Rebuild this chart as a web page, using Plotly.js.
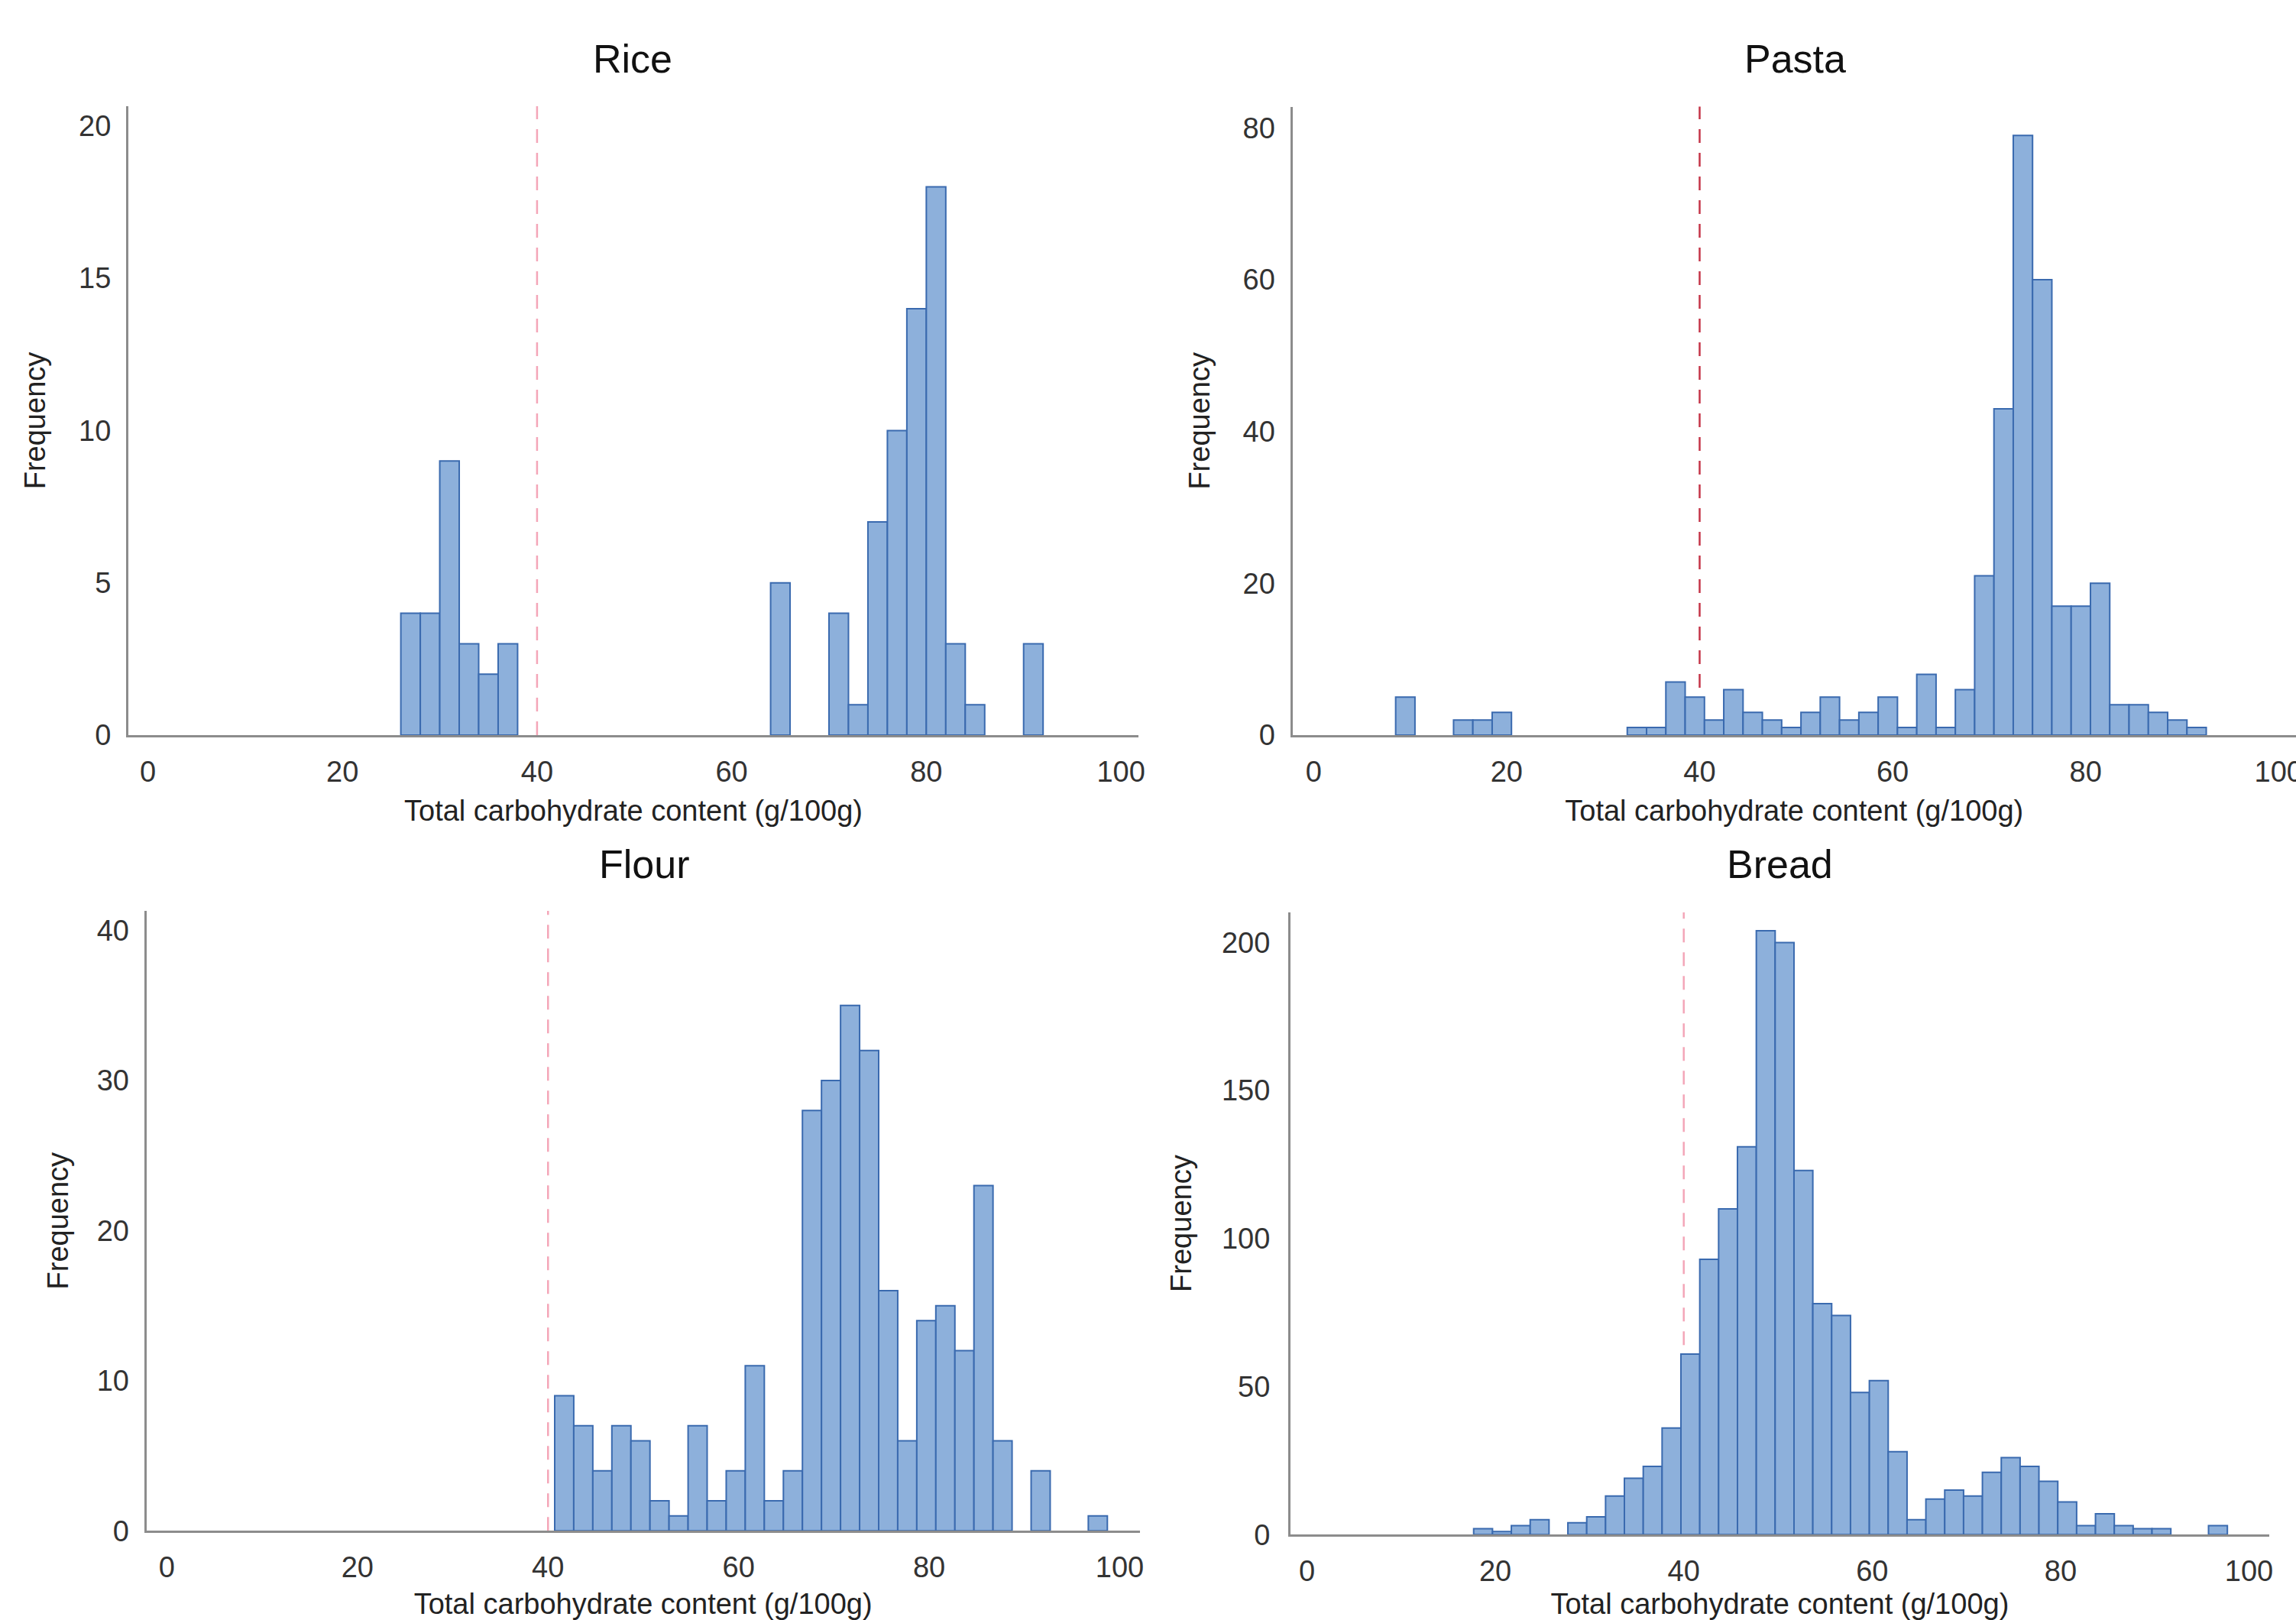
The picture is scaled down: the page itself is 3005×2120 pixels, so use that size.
<!DOCTYPE html>
<html>
<head>
<meta charset="utf-8">
<script src="https://cdn.plot.ly/plotly-3.0.1.min.js"></script>
<style>
html, body { margin: 0; padding: 0; background: #ffffff; }
#chart { width: 3005px; height: 2120px; }
</style>
</head>
<body>
<div id="chart"></div>
<script>
// ---------------- DATA ----------------
const panelTitles = ["Rice", "Pasta", "Flour", "Bread"];
const xAxisTitle = "Total carbohydrate content (g/100g)";
const yAxisTitle = "Frequency";
const thresholdValue = 40;
const xTickValues = [0, 20, 40, 60, 80, 100];
const binWidth = 2;

// Rice: bins of width 2 starting at 26
const riceBinStart = 26;
const riceCounts = [4, 4, 9, 3, 2, 3, 0, 0, 0, 0, 0, 0, 0, 0, 0, 0, 0, 0, 0, 5, 0, 0, 4, 1, 7, 10, 14, 18, 3, 1, 0, 0, 3];

// Pasta: bins of width 2 starting at 8.5
const pastaBinStart = 8.5;
const pastaCounts = [5, 0, 0, 2, 2, 3, 0, 0, 0, 0, 0, 0, 1, 1, 7, 5, 2, 6, 3, 2, 1, 3, 5, 2, 3, 5, 1, 8, 1, 6, 21, 43, 79, 60, 17, 17, 20, 4, 4, 3, 2, 1];

// Flour: bins of width 2 starting at 40.7
const flourBinStart = 40.7;
const flourCounts = [9, 7, 4, 7, 6, 2, 1, 7, 2, 4, 11, 2, 4, 28, 30, 35, 32, 16, 6, 14, 15, 12, 23, 6, 0, 4, 0, 0, 1];

// Bread: bins of width 2 starting at 17.7
const breadBinStart = 17.7;
const breadCounts = [2, 1, 3, 5, 0, 4, 6, 13, 19, 23, 36, 61, 93, 110, 131, 204, 200, 123, 78, 74, 48, 52, 28, 5, 12, 15, 13, 21, 26, 23, 18, 11, 3, 7, 3, 2, 2, 0, 0, 3];

// ---------------- STYLE / LAYOUT ----------------
const W = 3005, H = 2120;
const hx = px => px / W;
const vy = py => 1 - py / H;

const FONT = "Liberation Sans, Arial, Helvetica, sans-serif";
const barFill = "rgb(141,176,219)";
const barEdge = "rgb(58,106,175)";
const axisColor = "#8c8c8c";
const tickColor = "#333333";

const panels = [
  { name: panelTitles[0], start: riceBinStart, counts: riceCounts, xa: "x", ya: "y",
    xdom: [hx(168), hx(1490)], ydom: [vy(962), vy(139)], xrange: [-2.0, 101.8], yrange: [0, 20.65], dtick: 5,
    dash: "rgb(244,166,184)", title: [828, 77], xStand: 18, yStand: 32, yTickStand: 12 },
  { name: panelTitles[1], start: pastaBinStart, counts: pastaCounts, xa: "x2", ya: "y2",
    xdom: [hx(1691.5), 1.0], ydom: [vy(962), vy(139.6)], xrange: [-2.2, 101.8], yrange: [0, 82.8], dtick: 20,
    dash: "rgb(196,52,72)", title: [2349.6, 77], xStand: 18, yStand: 32, yTickStand: 12 },
  { name: panelTitles[2], start: flourBinStart, counts: flourCounts, xa: "x3", ya: "y3",
    xdom: [hx(191.6), hx(1491.7)], ydom: [vy(2003.3), vy(1192)], xrange: [-2.15, 102.1], yrange: [0, 41.3], dtick: 10,
    dash: "rgb(244,166,184)", title: [843, 1131], xStand: 26, yStand: 26, yTickStand: 12 },
  { name: panelTitles[3], start: breadBinStart, counts: breadCounts, xa: "x4", ya: "y4",
    xdom: [hx(1688.9), hx(2969.8)], ydom: [vy(2008.2), vy(1194)], xrange: [-1.75, 102.13], yrange: [0, 210.2], dtick: 50,
    dash: "rgb(244,166,184)", title: [2329, 1131], xStand: 28, yStand: 28, yTickStand: 16 }
];

// empty bins are drawn as no bar at all
const traces = panels.map(p => ({
  type: "bar",
  name: p.name,
  x0: p.start + binWidth / 2,
  dx: binWidth,
  y: p.counts.map(c => (c === 0 ? null : c)),
  width: binWidth,
  xaxis: p.xa,
  yaxis: p.ya,
  marker: { color: barFill, line: { color: barEdge, width: 2 } },
  showlegend: false,
  hoverinfo: "x+y"
}));

const layout = {
  width: W,
  height: H,
  margin: { l: 0, r: 0, t: 0, b: 0, pad: 0 },
  paper_bgcolor: "#ffffff",
  plot_bgcolor: "#ffffff",
  font: { family: FONT, color: tickColor, size: 38 },
  bargap: 0,
  showlegend: false,
  shapes: [],
  annotations: []
};

panels.forEach((p, i) => {
  const sfx = i === 0 ? "" : String(i + 1);
  layout["xaxis" + sfx] = {
    domain: p.xdom,
    range: p.xrange,
    anchor: p.ya,
    showline: true, linecolor: axisColor, linewidth: 3,
    showgrid: false, zeroline: false,
    ticks: "", tickmode: "array", tickvals: xTickValues,
    ticklabelstandoff: 12,
    ticklabeloverflow: "allow",
    tickfont: { family: FONT, size: 38, color: tickColor },
    title: { text: xAxisTitle, font: { family: FONT, size: 38, color: "#222222" }, standoff: p.xStand },
    fixedrange: true
  };
  layout["yaxis" + sfx] = {
    domain: p.ydom,
    range: p.yrange,
    anchor: p.xa,
    showline: true, linecolor: axisColor, linewidth: 3,
    showgrid: false, zeroline: false,
    ticks: "", tick0: 0, dtick: p.dtick,
    ticklabelstandoff: p.yTickStand,
    tickfont: { family: FONT, size: 38, color: tickColor },
    title: { text: yAxisTitle, font: { family: FONT, size: 38, color: "#222222" }, standoff: p.yStand },
    fixedrange: true
  };
  layout.shapes.push({
    type: "line", layer: "below",
    xref: p.xa, yref: p.ya + " domain",
    x0: thresholdValue, x1: thresholdValue, y0: 0, y1: 1,
    line: { color: p.dash, width: 2.5, dash: "18px,13px" }
  });
  layout.annotations.push({
    text: p.name,
    xref: "paper", yref: "paper",
    x: hx(p.title[0]), y: vy(p.title[1]),
    xanchor: "center", yanchor: "middle",
    showarrow: false,
    font: { family: FONT, size: 52, color: "#111111" }
  });
});

Plotly.newPlot("chart", traces, layout, { staticPlot: true, displayModeBar: false });
</script>
</body>
</html>
